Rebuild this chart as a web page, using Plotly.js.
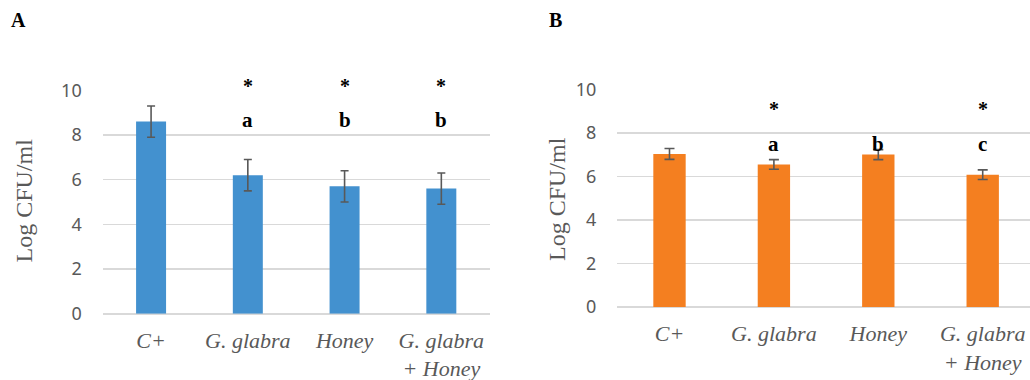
<!DOCTYPE html>
<html>
<head>
<meta charset="utf-8">
<script src="https://cdn.plot.ly/plotly-3.0.1.min.js"></script>
<style>html,body{margin:0;padding:0;background:#fff;}#chart{width:1030px;height:380px;}</style>
</head>
<body>
<div id="chart"></div>
<script>
// ---- data ----
const categories = ["C+", "G. glabra", "Honey", "G. glabra<br>+ Honey"];
const valuesA = [8.6, 6.2, 5.7, 5.6];
const errorsA = [0.7, 0.7, 0.7, 0.7];
const valuesB = [7.03, 6.55, 7.0, 6.08];
const errorsB = [0.25, 0.22, 0.23, 0.22];
const starsA = ["", "*", "*", "*"];
const lettersA = ["", "a", "b", "b"];
const starsB = ["", "*", "", "*"];
const lettersB = ["", "a", "b", "c"];
const yTickVals = [0, 2, 4, 6, 8, 10];
const yTitle = "Log CFU/ml";
const panelLabels = ["A", "B"];

// ---- styles ----
const grey = "#595959";
const gridCol = "#d9d9d9";
const serif = "Liberation Serif, Times New Roman, serif";
const sans = "Noto Sans, Open Sans, sans-serif";
const tickText = categories.map(c => "<i>" + c + "</i>");
const yMax = 10;

const traces = [
  {type: "bar", x: categories, y: valuesA, xaxis: "x", yaxis: "y",
   marker: {color: "#4391CF"},
   error_y: {type: "data", array: errorsA, visible: true, color: grey, thickness: 1.6, width: 4},
   hoverinfo: "skip", cliponaxis: false},
  {type: "bar", x: categories, y: valuesB, xaxis: "x2", yaxis: "y2",
   marker: {color: "#F47F20"},
   error_y: {type: "data", array: errorsB, visible: true, color: grey, thickness: 1.6, width: 5},
   hoverinfo: "skip", cliponaxis: false}
];

function xAxis(dom, rng, anchor) {
  return {domain: dom, anchor: anchor, type: "category", range: rng,
    tickmode: "array", tickvals: categories, ticktext: tickText,
    tickfont: {family: serif, size: 22, color: grey},
    ticklabelstandoff: 11, showgrid: false, zeroline: false, showline: false,
    ticks: "", fixedrange: true};
}
function yAxis(dom, anchor) {
  return {domain: dom, anchor: anchor, range: [0, yMax], tickvals: yTickVals,
    tickfont: {family: sans, size: 18, color: grey},
    ticklabelstandoff: 20, showgrid: true, gridcolor: gridCol, gridwidth: 1.6,
    zeroline: true, zerolinecolor: gridCol, zerolinewidth: 1.6,
    showline: false, ticks: "", fixedrange: true};
}

const annotations = [];
// positions given in axis units, converted to the axis' domain fraction so marks above the range still show
function addMarks(xref, ydom, stars, letters, starY, letterY) {
  categories.forEach((c, i) => {
    if (stars[i]) annotations.push({xref: xref, yref: ydom, x: c, y: starY / yMax, text: "<b>" + stars[i] + "</b>",
      showarrow: false, yanchor: "middle", font: {family: serif, size: 20, color: "#000"}});
    if (letters[i]) annotations.push({xref: xref, yref: ydom, x: c, y: letterY / yMax, text: "<b>" + letters[i] + "</b>",
      showarrow: false, yanchor: "middle", font: {family: serif, size: 21, color: "#000"}});
  });
}
addMarks("x", "y domain", starsA, lettersA, 10.2, 8.65);
addMarks("x2", "y2 domain", starsB, lettersB, 9.08, 7.5);

// y titles
annotations.push({xref: "paper", yref: "paper", x: 23.5 / 1030, y: 1 - 201 / 380, text: yTitle, textangle: -90,
  showarrow: false, xanchor: "center", yanchor: "middle", font: {family: serif, size: 24, color: grey}});
annotations.push({xref: "paper", yref: "paper", x: 557 / 1030, y: 1 - 199 / 380, text: yTitle, textangle: -90,
  showarrow: false, xanchor: "center", yanchor: "middle", font: {family: serif, size: 24, color: grey}});
// panel labels
annotations.push({xref: "paper", yref: "paper", x: 9 / 1030, y: 1 - 20 / 380, text: "<b>" + panelLabels[0] + "</b>",
  showarrow: false, xanchor: "left", yanchor: "middle", font: {family: serif, size: 20, color: "#000"}});
annotations.push({xref: "paper", yref: "paper", x: 547 / 1030, y: 1 - 20 / 380, text: "<b>" + panelLabels[1] + "</b>",
  showarrow: false, xanchor: "left", yanchor: "middle", font: {family: serif, size: 20, color: "#000"}});

const layout = {
  width: 1030, height: 380,
  margin: {l: 0, r: 0, t: 0, b: 0},
  paper_bgcolor: "#fff", plot_bgcolor: "#fff",
  showlegend: false, bargap: 0.69,
  xaxis: xAxis([102.7 / 1030, 489.7 / 1030], [-0.5, 3.5], "y"),
  yaxis: yAxis([66.3 / 380, 289.7 / 380], "x"),
  xaxis2: xAxis([617.3 / 1030, 1], [-0.5, 3.453], "y2"),
  yaxis2: yAxis([73 / 380, 290.7 / 380], "x2"),
  annotations: annotations
};

Plotly.newPlot("chart", traces, layout, {displayModeBar: false, staticPlot: true});
</script>
</body>
</html>
